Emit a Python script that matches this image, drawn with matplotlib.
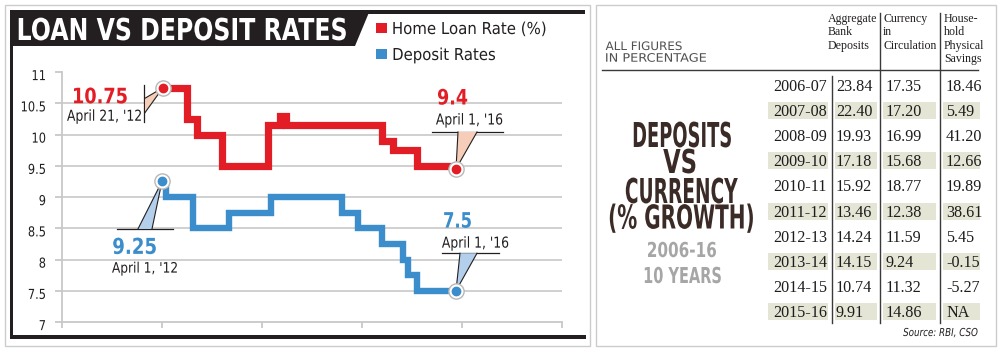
import matplotlib
matplotlib.use('Agg')
import matplotlib.pyplot as plt
from matplotlib.patches import Rectangle, Polygon
from matplotlib.patheffects import AbstractPathEffect
from matplotlib.transforms import Affine2D

# --- chart data (x = position along the time axis, axis runs 0..500) ---
loan_x = [101, 125, 135, 160, 206, 218, 224, 320, 331, 355, 394]
loan_rate = [10.75, 10.25, 10.0, 9.5, 10.15, 10.3, 10.15, 9.9, 9.75, 9.5, 9.5]
deposit_x = [100, 104, 131, 167, 209, 280, 296, 320, 341, 346, 355, 394]
deposit_rate = [9.25, 9.0, 8.5, 8.75, 9.0, 8.75, 8.5, 8.25, 8.0, 7.75, 7.5, 7.5]
loan_marks_x, loan_marks_y = [101, 394], [10.75, 9.45]
deposit_marks_x, deposit_marks_y = [100, 394], [9.25, 7.5]
y_ticks = [7, 7.5, 8, 8.5, 9, 9.5, 10, 10.5, 11]
y_labels = ['7', '7.5', '8', '8.5', '9', '9.5', '10', '10.5', '11']

# --- table data ---
years = ['2006-07', '2007-08', '2008-09', '2009-10', '2010-11',
         '2011-12', '2012-13', '2013-14', '2014-15', '2015-16']
bank_deposits = [23.84, 22.40, 19.93, 17.18, 15.92, 13.46, 14.24, 14.15, 10.74, 9.91]
currency = [17.35, 17.20, 16.99, 15.68, 18.77, 12.38, 11.59, 9.24, 11.32, 14.86]
physical_savings = [18.46, 5.49, 41.20, 12.66, 19.89, 38.61, 5.45, -0.15, -5.27, None]
headers = [['Aggregate', 'Bank', 'Deposits'],
           ['Currency', 'in', 'Circulation'],
           ['House-', 'hold', 'Physical', 'Savings']]

RED = '#e31d25'
BLUE = '#3b8dcb'
INK = '#231f20'
COND = ['DejaVu Sans']
SERIF = ['Liberation Serif', 'DejaVu Serif']
CAP = 0.729  # DejaVu cap height / em

W, H = 1000, 351
fig = plt.figure(figsize=(10, 3.51), dpi=100)


class Stretch(AbstractPathEffect):
    # draws the text taller about its baseline -> condensed headline look
    def __init__(self, sy):
        super().__init__()
        self.sy = sy

    def draw_path(self, renderer, gc, tpath, affine, rgbFace=None):
        renderer.draw_path(gc, tpath, Affine2D().scale(1, self.sy) + affine, rgbFace)


def fit(t, width=None, cap=None):
    # width: wanted text width in px, cap: wanted capital height in px
    if width:
        w = t.get_window_extent(fig.canvas.get_renderer()).width
        t.set_fontsize(t.get_fontsize() * width / w)
    if cap:
        t.set_path_effects([Stretch(cap / (CAP * t.get_fontsize() * fig.dpi / 72))])
    return t


def ftext(x, y, s, width=None, cap=None, ha='center', **kw):
    t = fig.text(x / W, 1 - y / H, s, ha=ha, va='baseline', **kw)
    return fit(t, width, cap)


def rect(x0, y0, x1, y1, color, **kw):
    fig.add_artist(Rectangle((x0 / W, 1 - y1 / H), (x1 - x0) / W, (y1 - y0) / H,
                             transform=fig.transFigure, color=color, lw=0, **kw))


def line(x0, y0, x1, y1, **kw):
    fig.add_artist(plt.Line2D([x0 / W, x1 / W], [1 - y0 / H, 1 - y1 / H],
                              transform=fig.transFigure, **kw))


# ---------------- frames ----------------
fig.add_artist(Rectangle((5 / W, 1 - 346 / H), 585 / W, 341 / H, transform=fig.transFigure,
                         fill=False, ec='#cccccc', lw=1))
fig.add_artist(Rectangle((596 / W, 1 - 346 / H), 400 / W, 341 / H, transform=fig.transFigure,
                         fill=False, ec='#cccccc', lw=1))
fig.add_artist(Polygon([(11 / W, 1 - 10 / H), (370 / W, 1 - 10 / H), (355 / W, 1 - 46 / H),
                        (11 / W, 1 - 46 / H)], closed=True, transform=fig.transFigure,
                       color=INK, lw=0))
rect(11, 10, 585, 14, INK)
rect(10, 10, 13, 339, INK)
rect(10, 335, 586, 339, INK)

ftext(182, 40, 'LOAN VS DEPOSIT RATES', width=330, cap=22, size=20, weight='bold',
      color='white', family=COND)

# legend
rect(376, 23, 387, 33, RED)
rect(376, 49, 387, 59, BLUE)
ftext(469.5, 34, 'Home Loan Rate (%)', width=155, cap=12, size=11, color=INK, family=COND)
ftext(444, 60, 'Deposit Rates', width=104, cap=12, size=11, color=INK, family=COND)

# ---------------- chart ----------------
ax = fig.add_axes([62 / W, (H - 322) / H, 500 / W, 250 / H])
ax.set_xlim(0, 500)
ax.set_ylim(7, 11)
ax.patch.set_visible(False)
for s in ['top', 'right']:
    ax.spines[s].set_visible(False)
for s in ['left', 'bottom']:
    ax.spines[s].set_color('#c8c8c8')
    ax.spines[s].set_linewidth(1.3)
for v in y_ticks[1:-1]:
    ax.axhline(v, color='#cdcdcd', lw=1.3, zorder=0)
ax.set_yticks(y_ticks, [])
ax.set_xticks(range(0, 501, 100), [])
ax.tick_params(axis='y', length=5, width=1.3, color='#c8c8c8')
ax.tick_params(axis='x', length=4, width=1.3, color='#c8c8c8')
for v, lab in zip(y_ticks, y_labels):
    t = ax.text(-16, v - 0.13, lab, ha='right', va='baseline', size=8.2,
                color=INK, family=COND)
    fit(t, cap=10)

ax.step(loan_x, loan_rate, where='post', color=RED, lw=5.2,
        solid_joinstyle='miter', solid_capstyle='butt', zorder=3)
ax.step(deposit_x, deposit_rate, where='post', color=BLUE, lw=4.6,
        solid_joinstyle='miter', solid_capstyle='butt', zorder=3)

# callouts: thin leader lines and wedges
ax.plot([82, 82], [10.79, 10.2], color=INK, lw=0.9, zorder=2)
ax.fill([83, 83, 101], [10.58, 10.35, 10.75], color='#f5cdb8', lw=0, zorder=2)
ax.plot([83, 101, 83], [10.58, 10.75, 10.35], color=INK, lw=0.8, zorder=2)

ax.plot([55, 111], [8.49, 8.49], color=INK, lw=0.9, zorder=2)
ax.fill([76, 90, 100], [8.49, 8.49, 9.25], color='#b3cfec', lw=0, zorder=2)
ax.plot([76, 100, 90], [8.49, 9.25, 8.49], color=INK, lw=0.8, zorder=2)

ax.plot([370, 441], [10.04, 10.04], color=INK, lw=0.9, zorder=2)
ax.fill([396, 415, 394], [10.04, 10.04, 9.45], color='#f5cdb8', lw=0, zorder=2)
ax.plot([396, 394, 415], [10.04, 9.45, 10.04], color=INK, lw=0.8, zorder=2)

ax.plot([380, 437], [8.10, 8.10], color=INK, lw=0.9, zorder=2)
ax.fill([398, 415, 394], [8.10, 8.10, 7.5], color='#b3cfec', lw=0, zorder=2)
ax.plot([398, 394, 415], [8.10, 7.5, 8.10], color=INK, lw=0.8, zorder=2)

for mx, my, c in [(loan_marks_x, loan_marks_y, RED), (deposit_marks_x, deposit_marks_y, BLUE)]:
    ax.scatter(mx, my, s=120, c='white', edgecolors='#b8b8b8', linewidths=1, zorder=5)
    ax.scatter(mx, my, s=36, c=c, zorder=6)


def atext(x, y, s, width, cap, **kw):
    t = ax.text(x, y, s, ha='center', va='baseline', family=COND, **kw)
    return fit(t, width, cap)


atext(38, 10.50, '10.75', 56, 15.5, size=14, weight='bold', color=RED)
atext(42.5, 10.22, "April 21, '12", 75, 11, size=9, color=INK)
atext(72.5, 8.09, '9.25', 45, 16, size=14, weight='bold', color=BLUE)
atext(83, 7.79, "April 1, '12", 66, 10.5, size=9, color=INK)
atext(390.5, 10.48, '9.4', 31, 15.5, size=14, weight='bold', color=RED)
atext(407.5, 10.16, "April 1, '16", 67, 11, size=9, color=INK)
atext(395.5, 8.51, '7.5', 29, 15.5, size=14, weight='bold', color=BLUE)
atext(413.5, 8.19, "April 1, '16", 67, 11, size=9, color=INK)

# ---------------- right panel ----------------
ftext(643.5, 50, 'ALL FIGURES', width=77, cap=8.5, size=8, color='#505050', family=COND)
ftext(656, 61.7, 'IN PERCENTAGE', width=102, cap=8.5, size=8, color='#505050', family=COND)

head_x = [828, 883, 944]
head_base = [22, 35.3, 48.6, 62]
for hx, col in zip(head_x, headers):
    for yb, word in zip(head_base, col):
        ftext(hx, yb, word, ha='left', size=8.6, color=INK, family=SERIF)

line(602, 70, 978, 70, color='#3a3a3a', lw=1)
line(880, 13, 880, 323, color='#3a3a3a', lw=1)
line(940, 13, 940, 323, color='#3a3a3a', lw=1)
line(832, 76, 832, 323, color='#3a3a3a', lw=1)

headline = [('DEPOSITS', 682, 147, 100, 25), ('VS', 680, 173, 34, 24),
            ('CURRENCY', 681.5, 203, 113, 25), ('(% GROWTH)', 681.5, 228.5, 147, 24)]
for s, cx, yb, w, cap in headline:
    ftext(cx, yb, s, width=w, cap=cap, size=14, weight='bold', color='#3b2b27', family=COND)
ftext(682, 257, '2006-16', width=70, cap=15, size=10, weight='bold', color='#a6a6a6', family=COND)
ftext(682.5, 283, '10 YEARS', width=79, cap=16, size=10, weight='bold', color='#a6a6a6', family=COND)

band_spans = [(768, 828), (835, 877), (883, 936), (943, 980)]
for i, yr in enumerate(years):
    yb = 90.7 + 25.18 * i
    if i % 2 == 1:
        for x0, x1 in band_spans:
            rect(x0, yb - 14, x1, yb + 3, '#e5e5d6', zorder=0)
    ps = 'NA' if physical_savings[i] is None else f'{physical_savings[i]:.2f}'
    cells = [(773, yr), (836, f'{bank_deposits[i]:.2f}'), (886, f'{currency[i]:.2f}'), (946, ps)]
    for cx, s in cells:
        ftext(cx, yb, s, ha='left', size=11.6, color='#1c1c1c', family=SERIF)

ftext(940.5, 336, 'Source: RBI, CSO', width=75, cap=8, size=7, style='italic', color=INK, family=COND)

fig.savefig('out.png', dpi=100)
